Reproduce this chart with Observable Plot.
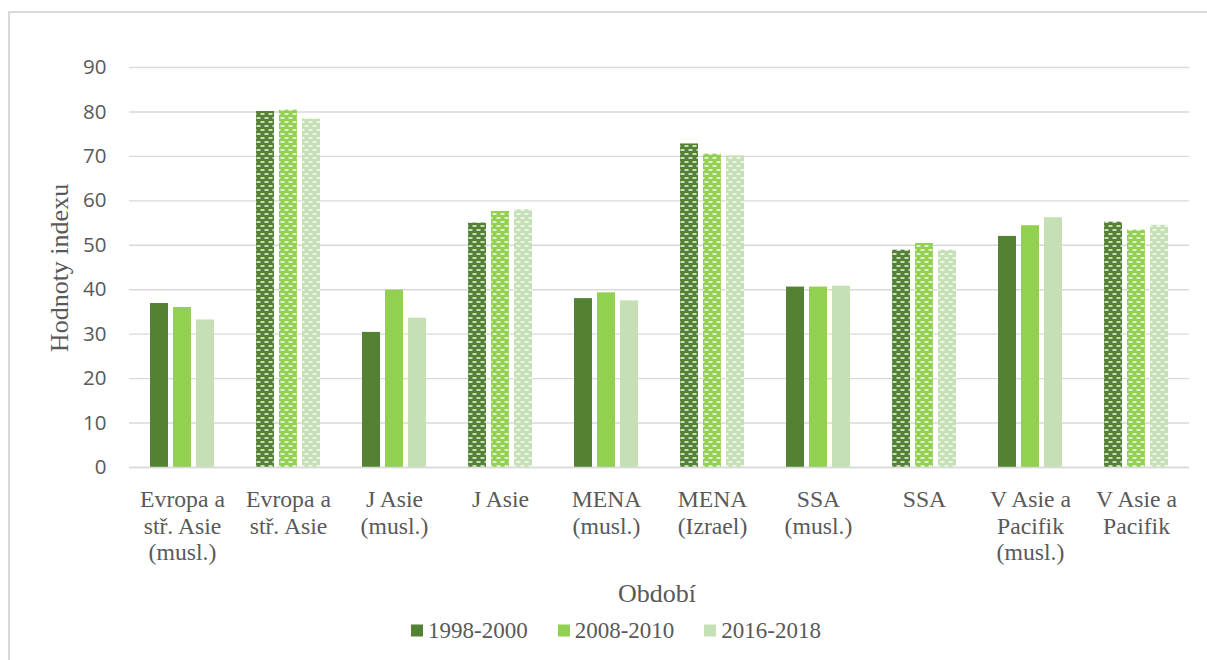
<!DOCTYPE html>
<html>
<head>
<meta charset="utf-8">
<script src="https://cdn.jsdelivr.net/npm/d3@7"></script>
<script src="https://cdn.jsdelivr.net/npm/@observablehq/plot@0.6"></script>
<style>
  html, body { margin: 0; padding: 0; background: #fff; }
  #wrap { position: relative; width: 1207px; height: 660px; overflow: hidden; background: #fff; }
  #frame { position: absolute; left: 8px; top: 11px; width: 1400px; height: 800px;
           border-left: 2px solid #d9d9d9; border-top: 2px solid #d9d9d9; }
  #chart { position: absolute; left: 0; top: 0; }
  .serif { font-family: "Liberation Serif", "Times New Roman", serif; color: #595959; }
  #ytitle { position: absolute; left: 60px; top: 268px; font-size: 26px; white-space: nowrap; line-height: 1;
            transform: translate(-50%, -50%) rotate(-90deg); }
  #xtitle { position: absolute; left: 657px; top: 594px; font-size: 26px; line-height: 1; white-space: nowrap;
            transform: translate(-50%, -50%); }
  #legend { position: absolute; left: 411px; top: 630px; font-size: 23px; line-height: 1;
            transform: translateY(-50%); display: flex; align-items: center; white-space: nowrap; }
  #legend .sw { display: inline-block; width: 12px; height: 12px; margin-right: 5px; }
  #legend .item { display: flex; align-items: center; margin-right: 30px; }
</style>
</head>
<body>
<div id="wrap">
  <div id="frame"></div>
  <div id="chart"></div>
  <div id="ytitle" class="serif">Hodnoty indexu</div>
  <div id="xtitle" class="serif">Období</div>
  <div id="legend" class="serif"></div>
</div>
<script>
// ---- data ----
const categories = ["Evropa a stř. Asie (musl.)", "Evropa a stř. Asie", "J Asie (musl.)", "J Asie",
  "MENA (musl.)", "MENA (Izrael)", "SSA (musl.)", "SSA", "V Asie a Pacifik (musl.)", "V Asie a Pacifik"];
const categoryLabels = ["Evropa a\nstř. Asie\n(musl.)", "Evropa a\nstř. Asie", "J Asie\n(musl.)", "J Asie",
  "MENA\n(musl.)", "MENA\n(Izrael)", "SSA\n(musl.)", "SSA", "V Asie a\nPacifik\n(musl.)", "V Asie a\nPacifik"];
const periods = ["1998-2000", "2008-2010", "2016-2018"];
const values1998 = [36.9, 80.1, 30.4, 55.0, 38.0, 72.8, 40.6, 48.9, 52.0, 55.2];
const values2008 = [36.0, 80.4, 39.9, 57.6, 39.3, 70.5, 40.6, 50.4, 54.4, 53.4];
const values2016 = [33.2, 78.4, 33.6, 58.0, 37.5, 70.1, 40.8, 48.9, 56.2, 54.5];
const patterned = [false, true, false, true, false, true, false, true, false, true];
const colors = ["#548235", "#92D050", "#C5E0B4"];
const yTicks = [0, 10, 20, 30, 40, 50, 60, 70, 80, 90];

const seriesValues = [values1998, values2008, values2016];
const rows = [];
categories.forEach((c, i) => {
  periods.forEach((p, j) => {
    rows.push({cat: c, period: p, value: seriesValues[j][i],
      fill: patterned[i] ? `url(#pat${j})` : colors[j]});
  });
});
const labelOf = new Map(categories.map((c, i) => [c, categoryLabels[i]]));

const chart = Plot.plot({
  width: 1207,
  height: 575,
  marginLeft: 127,
  marginRight: 17,
  marginTop: 67,
  marginBottom: 108,
  style: {fontFamily: '"Liberation Serif", "Times New Roman", serif', color: "#595959", background: "transparent"},
  fx: {domain: categories, padding: 0, label: null},
  x: {domain: periods, paddingInner: 0.2246, paddingOuter: 0.864, axis: null},
  y: {domain: [0, 90], label: null},
  color: {type: "identity"},
  marks: [
    Plot.gridY(yTicks, {stroke: "#d9d9d9", strokeOpacity: 1, strokeWidth: 1.4}),
    Plot.barY(rows, {fx: "cat", x: "period", y: "value", fill: "fill"}),
    Plot.ruleY([0], {stroke: "#d9d9d9", strokeWidth: 1.6}),
    Plot.axisY(yTicks, {tickSize: 0, tickPadding: 23, fontSize: 20.5, label: null,
      fontFamily: '"Open Sans", "Liberation Sans", sans-serif', fill: "#595959"}),
    Plot.axisFx({anchor: "bottom", tickSize: 0, tickPadding: 20.5, fontSize: 23.7, lineHeight: 1.127,
      label: null, fill: "#595959", tickFormat: d => labelOf.get(d)})
  ]
});

// patterns for the non-muslim groups
const ns = "http://www.w3.org/2000/svg";
const defs = document.createElementNS(ns, "defs");
colors.forEach((col, j) => {
  const pat = document.createElementNS(ns, "pattern");
  pat.setAttribute("id", `pat${j}`);
  pat.setAttribute("patternUnits", "userSpaceOnUse");
  pat.setAttribute("width", 8);
  pat.setAttribute("height", 8);
  const bg = document.createElementNS(ns, "rect");
  bg.setAttribute("width", 8); bg.setAttribute("height", 8); bg.setAttribute("fill", col);
  pat.appendChild(bg);
  [[0.5, 1.3], [4.5, 5.3], [-3.5, 5.3]].forEach(([x, y]) => {
    const r = document.createElementNS(ns, "rect");
    r.setAttribute("x", x); r.setAttribute("y", y);
    r.setAttribute("width", 4); r.setAttribute("height", 1.4);
    r.setAttribute("fill", "#ffffff");
    pat.appendChild(r);
  });
  defs.appendChild(pat);
});
chart.insertBefore(defs, chart.firstChild);
document.getElementById("chart").appendChild(chart);

// legend
const legend = document.getElementById("legend");
periods.forEach((p, j) => {
  const item = document.createElement("span");
  item.className = "item";
  const sw = document.createElement("span");
  sw.className = "sw";
  sw.style.background = colors[j];
  item.appendChild(sw);
  item.appendChild(document.createTextNode(p));
  legend.appendChild(item);
});
</script>
</body>
</html>
